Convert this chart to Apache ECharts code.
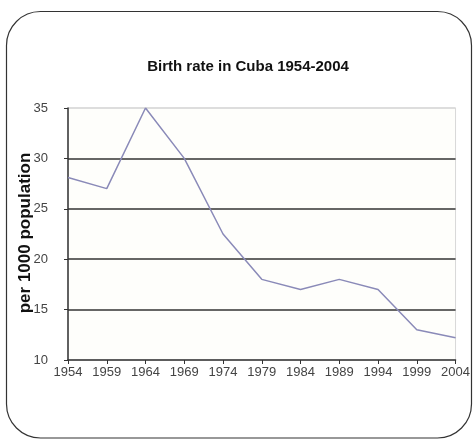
<!DOCTYPE html>
<html>
<head>
<meta charset="utf-8">
<script src="https://cdn.jsdelivr.net/npm/echarts@6/dist/echarts.min.js"></script>
<style>
  html, body { margin: 0; padding: 0; background: #ffffff; }
  #chart { width: 473px; height: 441px; }
</style>
</head>
<body>
<div id="chart"></div>
<script>
// Crude birth rate in Cuba, per 1000 population, every five years
const years = ['1954', '1959', '1964', '1969', '1974', '1979', '1984', '1989', '1994', '1999', '2004'];
const birthRate = [28.1, 27, 35, 30, 22.5, 18, 17, 18, 17, 13, 12.2];
const yTicks = [10, 15, 20, 25, 30, 35];

const chart = echarts.init(document.getElementById('chart'), null, { renderer: 'canvas' });

const labelFont = '"Liberation Sans", Arial, sans-serif';

chart.setOption({
  backgroundColor: '#ffffff',
  animation: false,
  title: {
    text: 'Birth rate in Cuba 1954-2004',
    left: 243,
    top: 54,
    textAlign: 'center',
    textStyle: {
      fontFamily: '"Liberation Sans", Arial, sans-serif',
      fontSize: 15,
      fontWeight: 'bold',
      color: '#111111'
    }
  },
  graphic: [
    {
      type: 'rect',
      shape: { x: 6.5, y: 11.5, width: 465, height: 426.5, r: 34 },
      style: { fill: 'none', stroke: '#333333', lineWidth: 1.2 },
      silent: true,
      z: 10
    },
    {
      type: 'text',
      x: 25,
      y: 233,
      rotation: Math.PI / 2,
      style: {
        text: 'per 1000 population',
        x: 0, y: 0,
        align: 'center',
        verticalAlign: 'middle',
        font: 'bold 17px "Liberation Sans", Arial, sans-serif',
        fill: '#111111'
      },
      silent: true
    }
  ],
  grid: {
    left: 68,
    right: 17,
    top: 108,
    bottom: 81,
    show: true,
    backgroundColor: '#fefefb',
    borderColor: '#d8d8d8',
    borderWidth: 1
  },
  xAxis: {
    type: 'category',
    data: years,
    boundaryGap: false,
    axisLine: { show: true, lineStyle: { color: '#333333', width: 1.5 } },
    axisTick: { show: true, length: 4, alignWithLabel: true, lineStyle: { color: '#333333' } },
    axisLabel: {
      color: '#444444',
      fontFamily: labelFont,
      fontSize: 13,
      margin: 6,
      interval: 0
    },
    splitLine: { show: false }
  },
  yAxis: {
    type: 'value',
    min: yTicks[0],
    max: yTicks[yTicks.length - 1],
    interval: 5,
    axisLine: { show: true, lineStyle: { color: '#333333', width: 1.5 } },
    axisTick: { show: true, length: 4, lineStyle: { color: '#333333' } },
    axisLabel: {
      color: '#444444',
      fontFamily: labelFont,
      fontSize: 13,
      margin: 20,
      formatter: function (v) { return yTicks.indexOf(v) >= 0 ? String(v) : ''; }
    },
    splitLine: {
      show: true,
      lineStyle: { color: ['#d8d8d8', '#333333', '#333333', '#333333', '#333333', '#d8d8d8'], width: 1.5 }
    }
  },
  series: [
    {
      type: 'line',
      data: birthRate,
      symbol: 'none',
      lineStyle: { color: '#8a8ab8', width: 1.5 },
      z: 3
    }
  ]
});
</script>
</body>
</html>
